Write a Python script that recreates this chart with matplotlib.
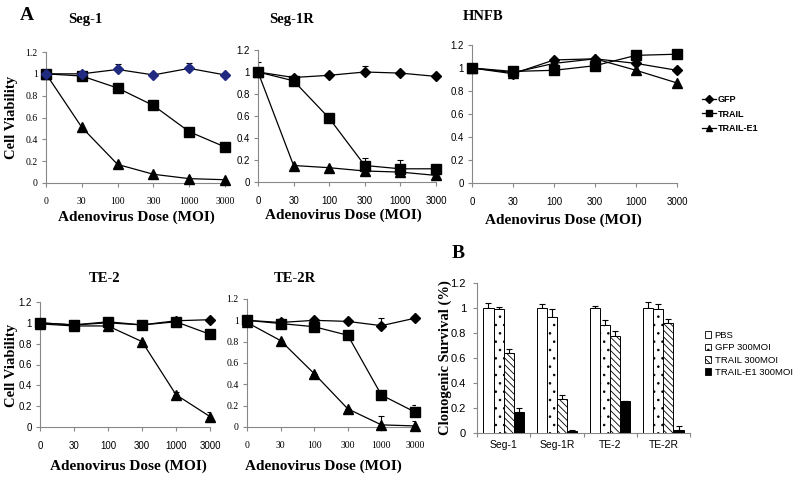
import matplotlib
matplotlib.use("Agg")
import matplotlib.pyplot as plt
import numpy as np
from matplotlib.lines import Line2D
from matplotlib.patches import Patch

W, H = 800, 479
doses = ["0", "30", "100", "300", "1000", "3000"]

seg1_gfp = [1.0, 1.0, 1.04, 0.99, 1.05, 0.99]
seg1_gfp_err = [0.0, 0.01, 0.05, 0.0, 0.05, 0.0]
seg1_trail = [1.0, 0.98, 0.87, 0.71, 0.47, 0.33]
seg1_trail_err = [0.0, 0.0, 0.0, 0.0, 0.0, 0.0]
seg1_e1 = [1.0, 0.51, 0.17, 0.08, 0.04, 0.03]
seg1_e1_err = [0.0, 0.0, 0.0, 0.0, 0.0, 0.0]

seg1r_gfp = [1.0, 0.95, 0.97, 1.0, 0.99, 0.96]
seg1r_gfp_err = [0.09, 0.0, 0.0, 0.05, 0.0, 0.0]
seg1r_trail = [1.0, 0.92, 0.58, 0.15, 0.12, 0.12]
seg1r_trail_err = [0.0, 0.0, 0.0, 0.07, 0.08, 0.0]
seg1r_e1 = [1.0, 0.15, 0.13, 0.10, 0.09, 0.06]
seg1r_e1_err = [0.0, 0.0, 0.0, 0.0, 0.0, 0.0]

hnfb_gfp = [1.0, 0.95, 1.07, 1.08, 1.04, 0.98]
hnfb_trail = [1.0, 0.97, 0.98, 1.02, 1.11, 1.12]
hnfb_e1 = [1.0, 0.96, 1.04, 1.08, 0.98, 0.87]
zero_err = [0.0] * 6

te2_gfp = [1.0, 0.98, 1.0, 0.98, 1.02, 1.03]
te2_trail = [1.0, 0.98, 1.01, 0.98, 1.01, 0.89]
te2_e1 = [0.99, 0.97, 0.97, 0.82, 0.31, 0.10]
te2_e1_err = [0.0, 0.0, 0.0, 0.0, 0.03, 0.04]

te2r_gfp = [1.0, 0.98, 1.0, 0.99, 0.95, 1.02]
te2r_gfp_err = [0.0, 0.0, 0.0, 0.0, 0.07, 0.0]
te2r_trail = [1.0, 0.97, 0.94, 0.86, 0.30, 0.14]
te2r_trail_err = [0.0, 0.0, 0.0, 0.0, 0.0, 0.07]
te2r_e1 = [0.98, 0.81, 0.50, 0.17, 0.02, 0.01]
te2r_e1_err = [0.0, 0.0, 0.0, 0.0, 0.08, 0.05]

cells = ["Seg-1", "Seg-1R", "TE-2", "TE-2R"]
pbs = [1.0, 1.0, 1.0, 1.0]
pbs_err = [0.04, 0.035, 0.02, 0.045]
gfp300 = [0.995, 0.93, 0.865, 0.995]
gfp300_err = [0.015, 0.06, 0.04, 0.035]
trail300 = [0.64, 0.27, 0.78, 0.88]
trail300_err = [0.03, 0.035, 0.04, 0.03]
e1300 = [0.165, 0.02, 0.255, 0.025]
e1300_err = [0.035, 0.005, 0.005, 0.03]

plt.rcParams["hatch.linewidth"] = 0.6
fig = plt.figure(figsize=(W / 100, H / 100), dpi=100)
fig.patch.set_facecolor("white")

def add_ax(l, r, t, b):
    return fig.add_axes([l / W, 1 - b / H, (r - l) / W, (b - t) / H])

SERIF = "Liberation Serif"
SANS = "Liberation Sans"
SPINE = "#888888"

def style_line_ax(ax, tickfont):
    for s in ["top", "right"]:
        ax.spines[s].set_visible(False)
    for s in ["left", "bottom"]:
        ax.spines[s].set_color(SPINE)
        ax.spines[s].set_linewidth(0.8)
    ax.set_xlim(0, 5)
    ax.set_ylim(0, 1.2)
    ax.set_xticks(range(6))
    ax.set_xticklabels(doses, fontfamily=tickfont, fontsize=7)
    yt = [0, 0.2, 0.4, 0.6, 0.8, 1.0, 1.2]
    ax.set_yticks(yt)
    ax.set_yticklabels(["0", "0.2", "0.4", "0.6", "0.8", "1", "1.2"],
                       fontfamily=tickfont, fontsize=7)
    ax.tick_params(axis="x", direction="out", length=3, width=0.8,
                   color=SPINE, pad=7)
    ax.tick_params(axis="y", direction="out", length=3, width=0.8,
                   color=SPINE, pad=3)

def plot_series(ax, y, err, marker, ms, color="black", mfc=None):
    x = np.arange(len(y))
    ax.plot(x, y, color="black", lw=0.9, zorder=3)
    if any(e > 0 for e in err):
        ax.errorbar(x, y, yerr=[np.zeros(len(err)), err], fmt="none",
                    ecolor="black", elinewidth=0.8, capsize=2.5, capthick=0.8, zorder=2)
    ax.plot(x, y, linestyle="none", marker=marker, ms=ms, color=mfc or color,
            mec=mfc or color, zorder=4, clip_on=False)

def line_panel(ax, gfp, gerr, tr, terr, e1, eerr, tickfont, gcolor="black"):
    style_line_ax(ax, tickfont)
    plot_series(ax, e1, eerr, "^", 6.5)
    plot_series(ax, tr, terr, "s", 6.5)
    plot_series(ax, gfp, gerr, "D", 4.8, mfc=gcolor)

xlab_kw = dict(fontfamily=SERIF, fontweight="bold", fontsize=11)
ylab_kw = dict(fontfamily=SERIF, fontweight="bold", fontsize=10.5)
title_kw = dict(fontfamily=SERIF, fontweight="bold", fontsize=10.5)

# Seg-1
ax1 = add_ax(46, 225, 52, 183)
line_panel(ax1, seg1_gfp, seg1_gfp_err, seg1_trail, seg1_trail_err, seg1_e1, seg1_e1_err,
           SERIF, gcolor="#1f2a80")
# Seg-1R
ax2 = add_ax(258, 436, 50, 182)
line_panel(ax2, seg1r_gfp, seg1r_gfp_err, seg1r_trail, seg1r_trail_err, seg1r_e1, seg1r_e1_err, SANS)
# HNFB
ax3 = add_ax(472, 677, 45, 183)
line_panel(ax3, hnfb_gfp, zero_err, hnfb_trail, zero_err, hnfb_e1, zero_err, SANS)
# TE-2
ax4 = add_ax(40, 210, 302, 427)
line_panel(ax4, te2_gfp, zero_err, te2_trail, zero_err, te2_e1, te2_e1_err, SANS)
# TE-2R
ax5 = add_ax(247, 415, 299, 427)
line_panel(ax5, te2r_gfp, te2r_gfp_err, te2r_trail, te2r_trail_err, te2r_e1, te2r_e1_err, SERIF)

def ftext(x, y, s, **kw):
    fig.text(x / W, 1 - y / H, s, ha="center", va="center", **kw)

ftext(27, 15, "A", fontfamily=SERIF, fontweight="bold", fontsize=14)
ftext(458, 253, "B", fontfamily=SERIF, fontweight="bold", fontsize=14)
ftext(85, 19, "Seg-1", **title_kw)
ftext(292, 19, "Seg-1R", **title_kw)
ftext(483, 16, "HNFB", **title_kw)
ftext(105, 278, "TE-2", **title_kw)
ftext(295, 278, "TE-2R", **title_kw)

ftext(136, 217, "Adenovirus Dose (MOI)", **xlab_kw)
ftext(343, 215, "Adenovirus Dose (MOI)", **xlab_kw)
ftext(563, 220, "Adenovirus Dose (MOI)", **xlab_kw)
ftext(128, 466, "Adenovirus Dose (MOI)", **xlab_kw)
ftext(323, 466, "Adenovirus Dose (MOI)", **xlab_kw)
ftext(12, 117, "Cell Viability", rotation=90, **ylab_kw)
ftext(12, 365, "Cell Viability", rotation=90, **ylab_kw)

# line legend
handles = [
    Line2D([], [], color="black", lw=0.9, marker="D", ms=4, label="GFP"),
    Line2D([], [], color="black", lw=0.9, marker="s", ms=5, label="TRAIL"),
    Line2D([], [], color="black", lw=0.9, marker="^", ms=5, label="TRAIL-E1"),
]
fig.legend(handles=handles, loc="center left", bbox_to_anchor=(697 / W, 1 - 114 / H),
           frameon=False, prop={"family": SANS, "size": 6.5, "weight": "bold"},
           handlelength=1.6, handletextpad=0.2, labelspacing=0.6, borderpad=0)

# Panel B
axb = add_ax(477, 690, 283, 433)
for s in ["top", "right"]:
    axb.spines[s].set_visible(False)
for s in ["left", "bottom"]:
    axb.spines[s].set_color(SPINE)
    axb.spines[s].set_linewidth(0.8)
x = np.arange(len(cells))
bw = 0.19
series = [
    (pbs, pbs_err, dict(facecolor="white", hatch=None), "PBS"),
    (gfp300, gfp300_err, dict(facecolor="white", hatch=".."), "GFP 300MOI"),
    (trail300, trail300_err, dict(facecolor="white", hatch="\\\\\\\\\\"), "TRAIL 300MOI"),
    (e1300, e1300_err, dict(facecolor="black", hatch=None), "TRAIL-E1 300MOI"),
]
leg_handles = []
for i, (vals, errs, st, lab) in enumerate(series):
    pos = x + (i - 1.5) * bw
    axb.bar(pos, vals, width=bw, edgecolor="black", linewidth=0.7, zorder=3, **st)
    axb.errorbar(pos, vals, yerr=[np.zeros(len(errs)), errs], fmt="none", ecolor="black",
                 elinewidth=0.8, capsize=2.5, capthick=0.8, zorder=2)
    leg_handles.append(Patch(edgecolor="black", linewidth=0.6, label=lab, **st))
axb.set_xlim(-0.5, 3.5)
axb.set_ylim(0, 1.2)
axb.set_xticks(x)
axb.set_xticklabels(cells, fontfamily=SANS, fontsize=7.5)
axb.set_yticks([0, 0.2, 0.4, 0.6, 0.8, 1.0, 1.2])
axb.set_yticklabels(["0", "0.2", "0.4", "0.6", "0.8", "1", "1.2"], fontfamily=SANS, fontsize=8)
axb.tick_params(axis="y", direction="out", length=3, width=0.8, color=SPINE, pad=5)
axb.tick_params(axis="x", length=0, pad=5)
axb.set_xticks(np.arange(-0.5, 4.0, 1.0), minor=True)
axb.tick_params(axis="x", which="minor", direction="out", length=3, width=0.8, color=SPINE)
ftext(445, 358, "Clonogenic Survival (%)", rotation=90, fontfamily=SERIF,
      fontweight="bold", fontsize=10.5)
fig.legend(handles=leg_handles, loc="center left", bbox_to_anchor=(700 / W, 1 - 354 / H),
           frameon=False, prop={"family": SANS, "size": 6.8},
           handlelength=0.7, handleheight=0.7, handletextpad=0.35, labelspacing=0.35, borderpad=0)

fig.savefig("out.png", dpi=100, facecolor="white")
